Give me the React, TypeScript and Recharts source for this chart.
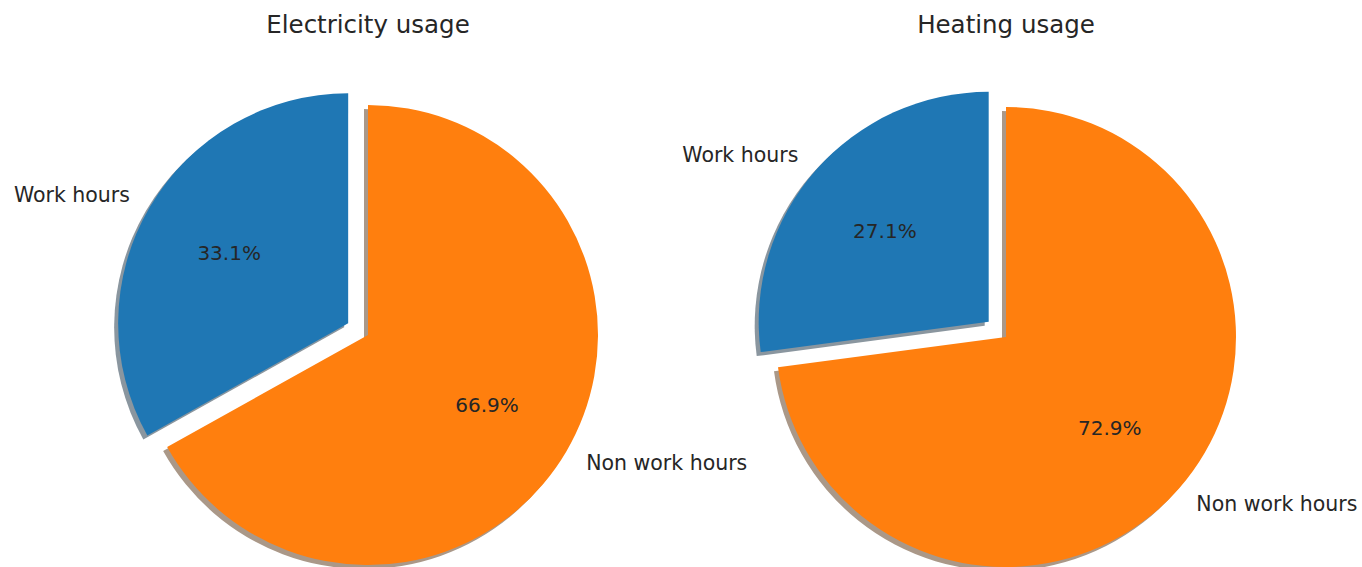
import React from "react";
import { PieChart, Pie, Cell, Sector } from "recharts";

const categories = ["Work hours", "Non work hours"];
const electricityValues = [33.1, 66.9];
const heatingValues = [27.1, 72.9];
const titles = ["Electricity usage", "Heating usage"];
const colors = ["#1f77b4", "#ff7f0e"];
const shadowColors = ["#8a969f", "#aa9888"];

const RADIAN = Math.PI / 180;
const R = 230;
const EXPLODE = 0.1 * R;

const electricityData = categories.map((name, i) => ({ name, value: electricityValues[i] }));
const heatingData = categories.map((name, i) => ({ name, value: heatingValues[i] }));

function explodeOffset(index: number, midAngle: number) {
  const d = index === 0 ? EXPLODE : 0;
  return { dx: d * Math.cos(-midAngle * RADIAN), dy: d * Math.sin(-midAngle * RADIAN) };
}

const explodedShape = (props: any) => {
  const { dx, dy } = explodeOffset(props.index, props.midAngle);
  return <Sector {...props} cx={props.cx + dx} cy={props.cy + dy} />;
};

const renderLabel = (props: any) => {
  const { cx, cy, midAngle, outerRadius, percent, name, index } = props;
  const { dx, dy } = explodeOffset(index, midAngle);
  const cos = Math.cos(-midAngle * RADIAN);
  const sin = Math.sin(-midAngle * RADIAN);
  const x0 = cx + dx;
  const y0 = cy + dy;
  const lx = x0 + outerRadius * 1.1 * cos;
  const ly = y0 + outerRadius * 1.1 * sin;
  const px = x0 + outerRadius * 0.6 * cos;
  const py = y0 + outerRadius * 0.6 * sin;
  return (
    <g>
      <text x={lx} y={ly} textAnchor={cos > 0 ? "start" : "end"} dominantBaseline="central"
        fontFamily="DejaVu Sans" fontSize={20.5} fill="#262626">{name}</text>
      <text x={px} y={py} textAnchor="middle" dominantBaseline="central"
        fontFamily="DejaVu Sans" fontSize={20} fill="#262626">{(percent * 100).toFixed(1)}%</text>
    </g>
  );
};

const pies = [
  { data: electricityData, cx: 368, cy: 335, title: titles[0] },
  { data: heatingData, cx: 1006, cy: 337, title: titles[1] },
];

export default function App() {
  return (
    <div style={{ position: "absolute", left: 0, top: 0, width: 1362, height: 567, background: "#fff" }}>
      <PieChart width={1362} height={567} margin={{ top: 0, right: 0, bottom: 0, left: 0 }}>
        {pies.map((p, k) => (
          <Pie key={`s${k}`} data={p.data} dataKey="value" nameKey="name" cx={p.cx - 4} cy={p.cy + 4}
            outerRadius={R} startAngle={90} endAngle={450} stroke="none" shape={explodedShape}
            isAnimationActive={false} label={false} labelLine={false}>
            {p.data.map((d, i) => <Cell key={i} fill={shadowColors[i]} />)}
          </Pie>
        ))}
        {pies.map((p, k) => (
          <Pie key={`m${k}`} data={p.data} dataKey="value" nameKey="name" cx={p.cx} cy={p.cy}
            outerRadius={R} startAngle={90} endAngle={450} stroke="none" shape={explodedShape}
            isAnimationActive={false} label={renderLabel} labelLine={false}>
            {p.data.map((d, i) => <Cell key={i} fill={colors[i]} />)}
          </Pie>
        ))}
      </PieChart>
      {pies.map((p, k) => (
        <div key={k} style={{ position: "absolute", left: p.cx - 200, width: 400, top: 10, textAlign: "center",
          fontFamily: "DejaVu Sans", fontSize: 24.5, color: "#262626", lineHeight: "30px" }}>{p.title}</div>
      ))}
    </div>
  );
}
